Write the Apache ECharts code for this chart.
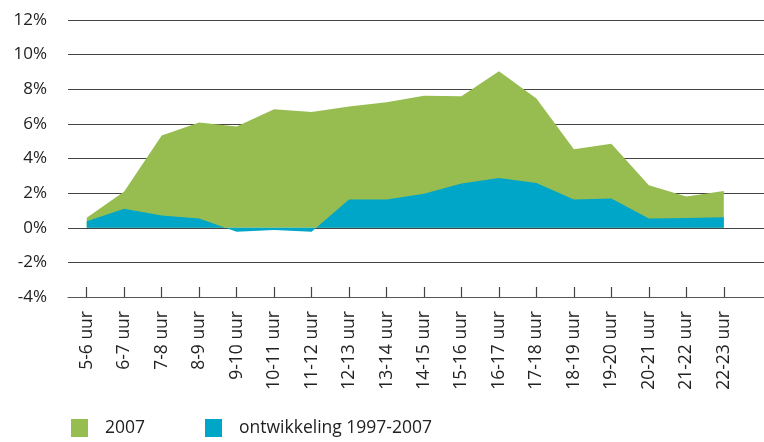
<!DOCTYPE html>
<html>
<head>
<meta charset="utf-8">
<script src="https://cdn.jsdelivr.net/npm/echarts@6/dist/echarts.min.js"></script>
<style>
  html, body { margin: 0; padding: 0; background: #fff; overflow: hidden; }
  /* wider than the window: the grid lines run on past the right edge */
  #chart { width: 790px; height: 442px; }
</style>
</head>
<body>
<div id="chart"></div>
<script>
// uurvakken (last one left blank so the grid runs on past 22-23 uur)
const hours = ['5-6 uur', '6-7 uur', '7-8 uur', '8-9 uur', '9-10 uur', '10-11 uur',
  '11-12 uur', '12-13 uur', '13-14 uur', '14-15 uur', '15-16 uur', '16-17 uur',
  '17-18 uur', '18-19 uur', '19-20 uur', '20-21 uur', '21-22 uur', '22-23 uur', ''];

const share2007 = [0.58, 2.1, 5.33, 6.08, 5.85, 6.85, 6.69, 7.0, 7.25, 7.63,
  7.6, 9.04, 7.46, 4.54, 4.85, 2.46, 1.81, 2.12];
const growth9707 = [0.37, 1.1, 0.71, 0.54, -0.23, -0.13, -0.23, 1.63, 1.63, 1.96,
  2.56, 2.88, 2.58, 1.63, 1.69, 0.54, 0.56, 0.6];

const yTicks = { min: -4, max: 12, step: 2 };

const font = '"Open Sans", "Noto Sans", sans-serif';
const green = '#97bd51';
const blue = '#00a6c8';

const chart = echarts.init(document.getElementById('chart'));

chart.setOption({
  animation: false,
  textStyle: { fontFamily: font },
  grid: { left: 68, top: 20, width: 712, height: 277, containLabel: false },
  legend: {
    left: 66, top: 414,
    icon: 'rect',
    itemWidth: 17, itemHeight: 18,
    itemGap: 60,
    textStyle: { fontFamily: font, fontSize: 17.5, color: '#222', padding: [0, 0, 0, 12] },
    data: ['2007', 'ontwikkeling 1997-2007']
  },
  xAxis: {
    type: 'category',
    data: hours,
    boundaryGap: true,
    axisLine: { show: true, onZero: false, lineStyle: { color: '#555', width: 1 } },
    axisTick: {
      show: true, inside: true, length: 10, alignWithLabel: true,
      interval: (i, v) => v !== '',
      lineStyle: { color: '#444', width: 1.2 }
    },
    axisLabel: {
      rotate: 90, margin: 14, interval: 0,
      fontFamily: font, fontSize: 17.5, color: '#222'
    }
  },
  yAxis: {
    type: 'value',
    min: yTicks.min, max: yTicks.max, interval: yTicks.step,
    axisLine: { show: false },
    axisTick: { show: false },
    axisLabel: {
      formatter: '{value}%', margin: 21,
      fontFamily: font, fontSize: 17, color: '#222'
    },
    splitLine: { lineStyle: { color: '#444', width: 1 } }
  },
  series: [
    {
      name: '2007', type: 'line', data: share2007,
      symbol: 'none', lineStyle: { width: 0 },
      itemStyle: { color: green },
      areaStyle: { color: green, opacity: 1 }
    },
    {
      name: 'ontwikkeling 1997-2007', type: 'line', data: growth9707,
      symbol: 'none', lineStyle: { width: 0 },
      itemStyle: { color: blue },
      areaStyle: { color: blue, opacity: 1 }
    }
  ]
});
</script>
</body>
</html>
